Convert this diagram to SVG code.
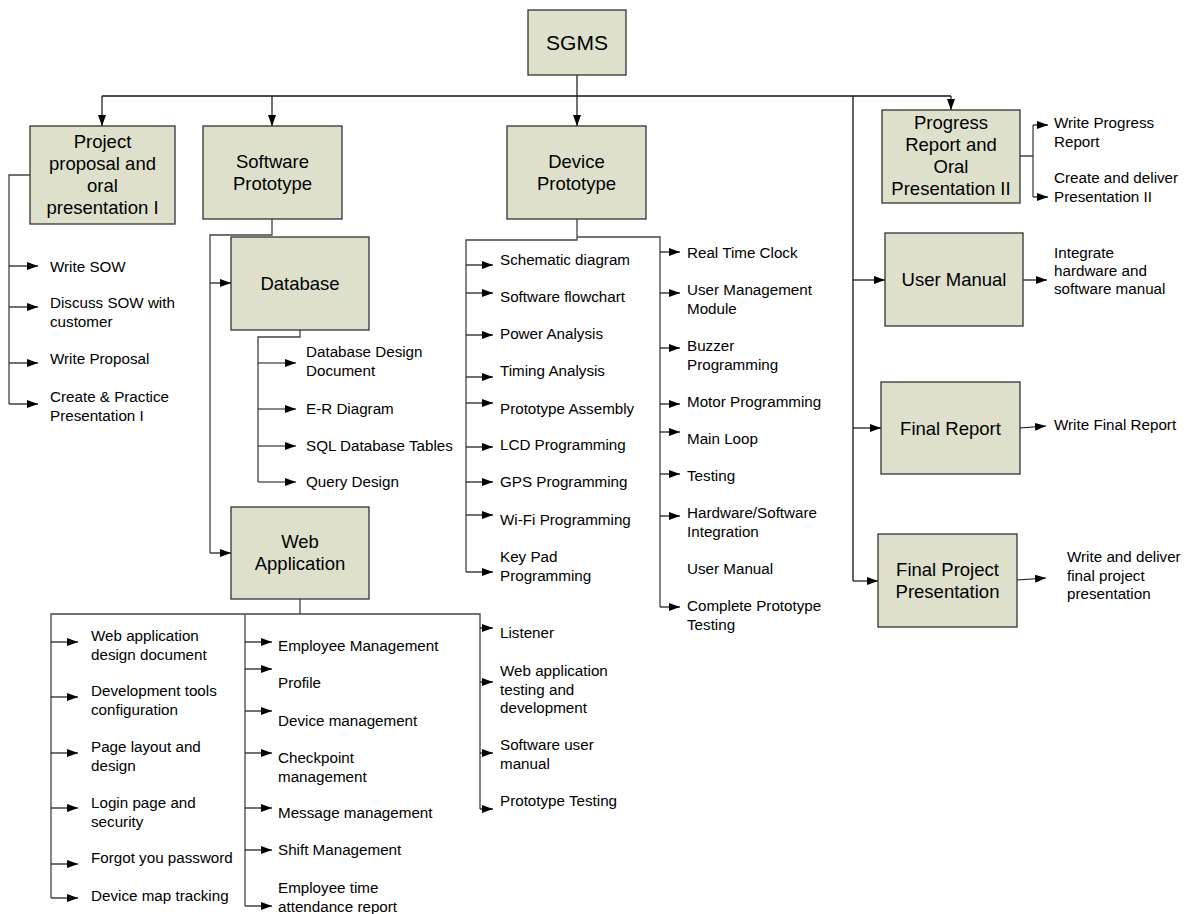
<svg xmlns="http://www.w3.org/2000/svg" width="1190" height="914" viewBox="0 0 1190 914">
  <defs>
    <marker id="ah" markerWidth="11" markerHeight="8" refX="11" refY="4" orient="auto" markerUnits="userSpaceOnUse">
      <path d="M0,0 L11,4 L0,8 z" fill="#000"/>
    </marker>
    <style>
      .box { fill: #dee0cb; stroke: #333; stroke-width: 1.3; }
      .title { font-family: "Liberation Sans", Arial, sans-serif; font-size: 18.5px; fill: #000; text-anchor: middle; }
      .big { font-size: 21px; }
      .item { font-family: "Liberation Sans", Arial, sans-serif; font-size: 15.2px; fill: #000; }
      .ln { fill: none; stroke: #111; stroke-width: 1.3; }
      .sub { fill: none; stroke: #444; stroke-width: 1.3; }
      .arr { fill: none; stroke: #111; stroke-width: 1.2; marker-end: url(#ah); }
    </style>
  </defs>
  <rect width="1190" height="914" fill="#fff"/>

  <!-- connectors -->
  <g id="connectors">
    <!-- top-level bus -->
    <path class="ln" d="M102,96 H951"/>
    <path class="arr" d="M102,96 V126"/>
    <path class="arr" d="M272,96 V126"/>
    <path class="arr" d="M577,75 V126"/>
    <path class="arr" d="M951,96 V110"/>
    <path class="ln" d="M853,96 V581"/>
    <path class="arr" d="M853,280 H885"/>
    <path class="arr" d="M853,428 H881"/>
    <path class="arr" d="M853,581 H878"/>

    <!-- project proposal tasks -->
    <path class="sub" d="M30,175 H9 V404"/>
    <path class="arr" d="M9,266 H38"/>
    <path class="arr" d="M9,307 H38"/>
    <path class="arr" d="M9,363 H38"/>
    <path class="arr" d="M9,404 H38"/>

    <!-- software prototype branches -->
    <path class="sub" d="M272,219 V235 H210 V553"/>
    <path class="arr" d="M210,283 H231"/>
    <path class="arr" d="M210,553 H231"/>

    <!-- database tasks -->
    <path class="sub" d="M300,330 V337 H258 V482"/>
    <path class="arr" d="M258,363 H296"/>
    <path class="arr" d="M258,409 H296"/>
    <path class="arr" d="M258,446 H296"/>
    <path class="arr" d="M258,482 H296"/>

    <!-- web application tasks -->
    <path class="sub" d="M300,599 V614"/>
    <path class="sub" d="M51,898 V614 H480 V809"/>
    <path class="sub" d="M245,614 V906"/>
    <path class="arr" d="M51,642 H78"/>
    <path class="arr" d="M51,697 H78"/>
    <path class="arr" d="M51,753 H78"/>
    <path class="arr" d="M51,808 H78"/>
    <path class="arr" d="M51,864 H78"/>
    <path class="arr" d="M51,898 H78"/>
    <path class="arr" d="M245,642 H272"/>
    <path class="arr" d="M245,669 H272"/>
    <path class="arr" d="M245,711 H272"/>
    <path class="arr" d="M245,753 H272"/>
    <path class="arr" d="M245,808 H272"/>
    <path class="arr" d="M245,850 H272"/>
    <path class="arr" d="M245,906 H272"/>
    <path class="arr" d="M480,628 H493"/>
    <path class="arr" d="M480,682 H493"/>
    <path class="arr" d="M480,753 H493"/>
    <path class="arr" d="M480,809 H493"/>

    <!-- device prototype tasks -->
    <path class="sub" d="M577,219 V240 H466 V572"/>
    <path class="sub" d="M577,237 H660 V607"/>
    <path class="arr" d="M466,265 H493"/>
    <path class="arr" d="M466,293 H493"/>
    <path class="arr" d="M466,335 H493"/>
    <path class="arr" d="M466,377 H493"/>
    <path class="arr" d="M466,403 H493"/>
    <path class="arr" d="M466,447 H493"/>
    <path class="arr" d="M466,482 H493"/>
    <path class="arr" d="M466,515 H493"/>
    <path class="arr" d="M466,572 H493"/>
    <path class="arr" d="M660,252 H680"/>
    <path class="arr" d="M660,293 H680"/>
    <path class="arr" d="M660,348 H680"/>
    <path class="arr" d="M660,404 H680"/>
    <path class="arr" d="M660,432 H680"/>
    <path class="arr" d="M660,474 H680"/>
    <path class="arr" d="M660,516 H680"/>
    <path class="arr" d="M660,607 H680"/>

    <!-- right column tasks -->
    <path class="sub" d="M1020,156 H1033 V197"/>
    <path class="sub" d="M1033,156 V125"/>
    <path class="arr" d="M1033,125 H1048"/>
    <path class="arr" d="M1033,197 H1048"/>
    <path class="arr" d="M1023,280 H1047"/>
    <path class="arr" d="M1020,428 L1046,426"/>
    <path class="arr" d="M1017,580 L1046,578"/>
  </g>

  <!-- nodes -->
  <g id="sgms">
    <rect class="box" x="528" y="10" width="98" height="65"/>
    <text class="title big" x="577" y="50">SGMS</text>
  </g>

  <g id="proposal">
    <rect class="box" x="30" y="126" width="145" height="98"/>
    <text class="title" x="102.5" y="148">Project<tspan x="102.5" dy="22">proposal and</tspan><tspan x="102.5" dy="22">oral</tspan><tspan x="102.5" dy="22">presentation I</tspan></text>
  </g>

  <g id="software-prototype">
    <rect class="box" x="203" y="126" width="139" height="93"/>
    <text class="title" x="272.5" y="168">Software<tspan x="272.5" dy="22">Prototype</tspan></text>
  </g>

  <g id="device-prototype">
    <rect class="box" x="507" y="126" width="139" height="93"/>
    <text class="title" x="576.5" y="168">Device<tspan x="576.5" dy="22">Prototype</tspan></text>
  </g>

  <g id="progress-report">
    <rect class="box" x="882" y="110" width="138" height="93"/>
    <text class="title" x="951" y="129">Progress<tspan x="951" dy="22">Report and</tspan><tspan x="951" dy="22">Oral</tspan><tspan x="951" dy="22">Presentation II</tspan></text>
  </g>

  <g id="database">
    <rect class="box" x="231" y="237" width="138" height="93"/>
    <text class="title" x="300" y="290">Database</text>
  </g>

  <g id="web-application">
    <rect class="box" x="231" y="507" width="138" height="92"/>
    <text class="title" x="300" y="548">Web<tspan x="300" dy="22">Application</tspan></text>
  </g>

  <g id="user-manual">
    <rect class="box" x="885" y="233" width="138" height="93"/>
    <text class="title" x="954" y="286">User Manual</text>
  </g>

  <g id="final-report">
    <rect class="box" x="881" y="382" width="139" height="92"/>
    <text class="title" x="950.5" y="435">Final Report</text>
  </g>

  <g id="final-presentation">
    <rect class="box" x="878" y="534" width="139" height="93"/>
    <text class="title" x="947.5" y="576">Final Project<tspan x="947.5" dy="22">Presentation</tspan></text>
  </g>

  <!-- task labels -->
  <g id="proposal-tasks" class="item">
    <text x="50" y="272">Write SOW</text>
    <text x="50" y="308">Discuss SOW with<tspan x="50" dy="19">customer</tspan></text>
    <text x="50" y="364">Write Proposal</text>
    <text x="50" y="402">Create &amp; Practice<tspan x="50" dy="19">Presentation I</tspan></text>
  </g>

  <g id="database-tasks" class="item">
    <text x="306" y="357">Database Design<tspan x="306" dy="19">Document</tspan></text>
    <text x="306" y="414">E-R Diagram</text>
    <text x="306" y="451">SQL Database Tables</text>
    <text x="306" y="487">Query Design</text>
  </g>

  <g id="device-tasks-a" class="item">
    <text x="500" y="265">Schematic diagram</text>
    <text x="500" y="302">Software flowchart</text>
    <text x="500" y="339">Power Analysis</text>
    <text x="500" y="376">Timing Analysis</text>
    <text x="500" y="414">Prototype Assembly</text>
    <text x="500" y="450">LCD Programming</text>
    <text x="500" y="487">GPS Programming</text>
    <text x="500" y="525">Wi-Fi Programming</text>
    <text x="500" y="562">Key Pad<tspan x="500" dy="19">Programming</tspan></text>
  </g>

  <g id="device-tasks-b" class="item">
    <text x="687" y="258">Real Time Clock</text>
    <text x="687" y="295">User Management<tspan x="687" dy="19">Module</tspan></text>
    <text x="687" y="351">Buzzer<tspan x="687" dy="19">Programming</tspan></text>
    <text x="687" y="407">Motor Programming</text>
    <text x="687" y="444">Main Loop</text>
    <text x="687" y="481">Testing</text>
    <text x="687" y="518">Hardware/Software<tspan x="687" dy="19">Integration</tspan></text>
    <text x="687" y="574">User Manual</text>
    <text x="687" y="611">Complete Prototype<tspan x="687" dy="19">Testing</tspan></text>
  </g>

  <g id="web-tasks-a" class="item">
    <text x="91" y="641">Web application<tspan x="91" dy="19">design document</tspan></text>
    <text x="91" y="696">Development tools<tspan x="91" dy="19">configuration</tspan></text>
    <text x="91" y="752">Page layout and<tspan x="91" dy="19">design</tspan></text>
    <text x="91" y="808">Login page and<tspan x="91" dy="19">security</tspan></text>
    <text x="91" y="863">Forgot you password</text>
    <text x="91" y="901">Device map tracking</text>
  </g>

  <g id="web-tasks-b" class="item">
    <text x="278" y="651">Employee Management</text>
    <text x="278" y="688">Profile</text>
    <text x="278" y="726">Device management</text>
    <text x="278" y="763">Checkpoint<tspan x="278" dy="19">management</tspan></text>
    <text x="278" y="818">Message management</text>
    <text x="278" y="855">Shift Management</text>
    <text x="278" y="893">Employee time<tspan x="278" dy="19">attendance report</tspan></text>
  </g>

  <g id="web-tasks-c" class="item">
    <text x="500" y="638">Listener</text>
    <text x="500" y="676">Web application<tspan x="500" dy="18.5">testing and</tspan><tspan x="500" dy="18.5">development</tspan></text>
    <text x="500" y="750">Software user<tspan x="500" dy="18.5">manual</tspan></text>
    <text x="500" y="806">Prototype Testing</text>
  </g>

  <g id="closing-tasks" class="item">
    <text x="1054" y="128">Write Progress<tspan x="1054" dy="19">Report</tspan></text>
    <text x="1054" y="183">Create and deliver<tspan x="1054" dy="19">Presentation II</tspan></text>
    <text x="1054" y="258">Integrate<tspan x="1054" dy="18">hardware and</tspan><tspan x="1054" dy="18">software manual</tspan></text>
    <text x="1054" y="430">Write Final Report</text>
    <text x="1067" y="562">Write and deliver<tspan x="1067" dy="18.5">final project</tspan><tspan x="1067" dy="18.5">presentation</tspan></text>
  </g>
</svg>
